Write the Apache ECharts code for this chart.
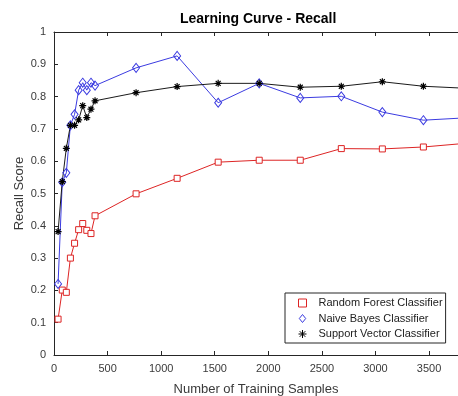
<!DOCTYPE html>
<html><head><meta charset="utf-8">
<script src="https://cdn.jsdelivr.net/npm/echarts@6/dist/echarts.min.js"></script>
<style>html,body{margin:0;padding:0;background:#fff}#c{width:458px;height:396px}</style>
</head><body><div id="c"></div>
<script>
const trainingSizes = [38, 77, 115, 153, 192, 230, 268, 306, 345, 383, 766, 1149, 1532, 1915, 2298, 2681, 3064, 3447, 3830];
const randomForest = [0.111, 0.201, 0.194, 0.300, 0.346, 0.388, 0.407, 0.386, 0.376, 0.431, 0.499, 0.547, 0.597, 0.603, 0.603, 0.639, 0.638, 0.644, 0.655];
const naiveBayes = [0.220, 0.535, 0.564, 0.711, 0.745, 0.820, 0.843, 0.820, 0.843, 0.834, 0.889, 0.926, 0.781, 0.841, 0.796, 0.801, 0.752, 0.727, 0.734];
const supportVector = [0.382, 0.537, 0.640, 0.711, 0.711, 0.728, 0.772, 0.735, 0.761, 0.787, 0.812, 0.831, 0.841, 0.841, 0.829, 0.832, 0.846, 0.832, 0.826];
const seriesNames = ['Random Forest Classifier', 'Naive Bayes Classifier', 'Support Vector Classifier'];
const titleText = 'Learning Curve - Recall';
const xAxisTitle = 'Number of Training Samples';
const yAxisTitle = 'Recall Score';

const RED = '#dd2424', BLUE = '#3b3be0', BLACK = '#1a1a1a';
const STAR = 'path://M5,0L5,10M0,5L10,5M1.5,1.5L8.5,8.5M1.5,8.5L8.5,1.5';
const SQUARE = 'path://M0,0L10,0L10,10L0,10Z';
const DIAMOND = 'path://M4,0L8,5L4,10L0,5Z';
const FONT = 'Liberation Sans, Arial, sans-serif';
const pairs = ys => trainingSizes.map((x, i) => [x, ys[i]]);

const X_MAX = 3770;
const axisCol = '#262626', labelCol = '#3a3a3a';
const xCommon = {
  type: 'value', min: 0, max: X_MAX, interval: 500,
  axisLine: {show: true, onZero: false, lineStyle: {color: axisCol, width: 1}},
  axisTick: {show: true, inside: true, length: 4, lineStyle: {color: axisCol}},
  splitLine: {show: false}
};

const chart = echarts.init(document.getElementById('c'), null, {renderer: 'canvas'});
chart.setOption({
  animation: false,
  backgroundColor: '#fff',
  title: {text: titleText, left: 180, top: 12, padding: 0,
    textStyle: {fontFamily: FONT, fontSize: 14, fontWeight: 'bold', color: '#000'}},
  grid: {left: 54, right: 0, top: 32, bottom: 41, containLabel: false, outerBoundsMode: 'none'},
  xAxis: [
    Object.assign({}, xCommon, {position: 'bottom',
      name: xAxisTitle, nameLocation: 'middle', nameGap: 28, nameMoveOverlap: false,
      nameTextStyle: {fontFamily: FONT, fontSize: 13, color: labelCol},
      axisLabel: {show: true, margin: 8, showMaxLabel: false, fontFamily: FONT, fontSize: 11, color: labelCol,
        formatter: v => String(v)}}),
    Object.assign({}, xCommon, {position: 'top', axisLabel: {show: false}})
  ],
  yAxis: {
    type: 'value', min: 0, max: 1, interval: 0.1,
    name: yAxisTitle, nameLocation: 'middle', nameGap: 28, nameMoveOverlap: false,
    nameTextStyle: {fontFamily: FONT, fontSize: 13, color: labelCol},
    axisLine: {show: true, onZero: false, lineStyle: {color: axisCol, width: 1}},
    axisTick: {show: true, inside: true, length: 4, lineStyle: {color: axisCol}},
    axisLabel: {margin: 8, fontFamily: FONT, fontSize: 11, color: labelCol,
      formatter: v => String(Math.round(v * 10) / 10)},
    splitLine: {show: false}
  },
  legend: {
    orient: 'vertical', left: 285, top: 293,
    padding: [4, 3, 3, 13], itemGap: 3.5, itemWidth: 22, itemHeight: 8,
    symbolKeepAspect: true,
    backgroundColor: '#fff', borderColor: '#262626', borderWidth: 1, borderRadius: 0,
    textStyle: {fontFamily: FONT, fontSize: 11, color: '#222', lineHeight: 12},
    data: [
      {name: seriesNames[0], icon: SQUARE, itemStyle: {color: '#fff', borderColor: RED, borderWidth: 1}},
      {name: seriesNames[1], icon: DIAMOND, itemStyle: {color: '#fff', borderColor: BLUE, borderWidth: 1}},
      {name: seriesNames[2], icon: STAR, itemStyle: {color: '#000', borderColor: '#000', borderWidth: 1}}
    ]
  },
  series: [
    {name: seriesNames[0], type: 'line', data: pairs(randomForest), clip: true,
      symbol: 'rect', symbolSize: 6, showAllSymbol: true,
      lineStyle: {color: RED, width: 1},
      itemStyle: {color: '#fff', borderColor: RED, borderWidth: 1}},
    {name: seriesNames[1], type: 'line', data: pairs(naiveBayes), clip: true,
      symbol: 'diamond', symbolSize: [7, 9], showAllSymbol: true,
      lineStyle: {color: BLUE, width: 1},
      itemStyle: {color: 'rgba(255,255,255,0)', borderColor: BLUE, borderWidth: 1}},
    {name: seriesNames[2], type: 'line', data: pairs(supportVector), clip: true,
      symbol: STAR, symbolSize: 7, showAllSymbol: true,
      lineStyle: {color: BLACK, width: 1},
      itemStyle: {color: '#000', borderColor: '#000', borderWidth: 1.2}}
  ]
});
</script></body></html>
